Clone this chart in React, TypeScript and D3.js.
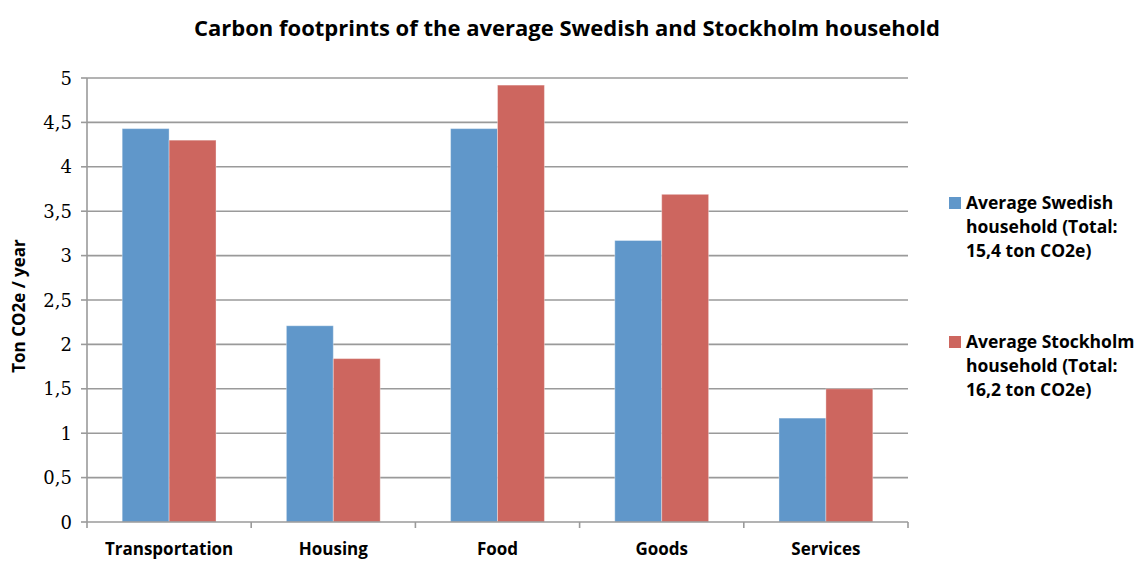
import React from "react";
import * as d3 from "d3";

const categories = ["Transportation", "Housing", "Food", "Goods", "Services"];
const seriesNames = [
  ["Average Swedish", "household (Total:", "15,4 ton CO2e)"],
  ["Average Stockholm", "household (Total:", "16,2 ton CO2e)"],
];
const swedish = [4.43, 2.21, 4.43, 3.17, 1.17];
const stockholm = [4.3, 1.84, 4.92, 3.69, 1.5];
const yTicks = [0, 0.5, 1, 1.5, 2, 2.5, 3, 3.5, 4, 4.5, 5];
const colors = ["#6097CA", "#CD665F"];

const W = 1143;
const H = 561;
const M = { left: 87, right: 908, top: 78, bottom: 522 };

export default function App() {
  const x = d3.scaleBand<string>().domain(categories).range([M.left, M.right]).paddingInner(0).paddingOuter(0);
  const inner = d3.scaleBand<number>().domain([0, 1]).range([0, x.bandwidth()]).paddingOuter(0.75).paddingInner(0);
  const y = d3.scaleLinear().domain([0, 5]).range([M.bottom, M.top]);
  const series = [swedish, stockholm];
  const fmt = (v: number) => String(v).replace(".", ",");
  const boundaries = d3.range(categories.length + 1).map((i) => M.left + i * x.bandwidth());
  const sans = "'Open Sans', sans-serif";

  return (
    <svg width={W} height={H} style={{ position: "absolute", left: 0, top: 0, background: "#fff" }}>
      <text x={567} y={36} textAnchor="middle" fontFamily={sans} fontWeight="bold" fontSize={22} fill="#000">
        Carbon footprints of the average Swedish and Stockholm household
      </text>
      {yTicks.map((t) => (
        <g key={t}>
          {t > 0 && (
            <line x1={M.left} x2={M.right} y1={y(t)} y2={y(t)} stroke="#9a9a9a" strokeWidth={1.6} />
          )}
          <line x1={M.left - 6} x2={M.left} y1={y(t)} y2={y(t)} stroke="#9a9a9a" strokeWidth={1.6} />
          <text x={72} y={y(t) + 6.5} textAnchor="end" fontFamily="'DejaVu Serif', serif" fontSize={18} fill="#000">
            {fmt(t)}
          </text>
        </g>
      ))}
      {categories.map((c, ci) =>
        series.map((s, si) => (
          <rect
            key={c + si}
            x={(x(c) as number) + (inner(si) as number)}
            y={y(s[ci])}
            width={inner.bandwidth()}
            height={y(0) - y(s[ci])}
            fill={colors[si]}
            stroke="rgba(255,255,255,0.35)"
            strokeWidth={1}
          />
        ))
      )}
      <line x1={M.left} x2={M.left} y1={M.top} y2={M.bottom} stroke="#9a9a9a" strokeWidth={1.6} />
      <line x1={M.left} x2={M.right} y1={M.bottom} y2={M.bottom} stroke="#9a9a9a" strokeWidth={1.6} />
      {boundaries.map((b, i) => (
        <line key={i} x1={b} x2={b} y1={M.bottom} y2={M.bottom + 6} stroke="#9a9a9a" strokeWidth={1.6} />
      ))}
      {categories.map((c) => (
        <text key={c} x={(x(c) as number) + x.bandwidth() / 2} y={555} textAnchor="middle" fontFamily={sans} fontWeight="bold" fontSize={17} fill="#000">
          {c}
        </text>
      ))}
      <text transform={`translate(25,306) rotate(-90)`} textAnchor="middle" fontFamily={sans} fontWeight="bold" fontSize={17} fill="#000">
        Ton CO2e / year
      </text>
      {seriesNames.map((lines, si) => {
        const base = si === 0 ? 209 : 348;
        return (
          <g key={si}>
            <rect x={949} y={base - 12} width={12} height={12} fill={colors[si]} />
            {lines.map((l, li) => (
              <text key={li} x={966} y={base + li * 24} fontFamily={sans} fontWeight="bold" fontSize={17.5} fill="#000">
                {l}
              </text>
            ))}
          </g>
        );
      })}
    </svg>
  );
}
